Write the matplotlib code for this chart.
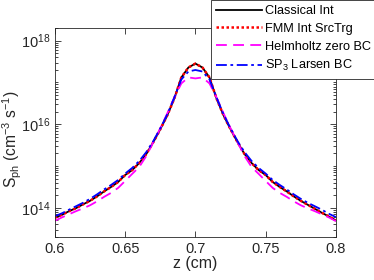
import numpy as np
import matplotlib as mpl
mpl.use('Agg')
import matplotlib.pyplot as plt
from matplotlib.ticker import FixedLocator, NullFormatter

plt.rcParams['font.family'] = ['Liberation Sans', 'DejaVu Sans']
plt.rcParams['mathtext.fontset'] = 'custom'
plt.rcParams['mathtext.rm'] = 'Liberation Sans'
plt.rcParams['mathtext.it'] = 'Liberation Sans:italic'

# z positions (cm)
z = np.linspace(0.6, 0.8, 41)

# photon source density S_ph (cm^-3 s^-1)
classical = [5.8e13, 6.8e13, 8.3e13, 9.8e13, 1.21e14, 1.47e14, 1.88e14, 2.47e14, 3.16e14, 4.16e14,
             6.1e14, 8.0e14, 1.18e15, 1.93e15, 3.72e15, 7.6e15, 1.64e16, 4.16e16, 1.32e17, 2.28e17,
             2.83e17,
             2.28e17, 1.32e17, 4.16e16, 1.64e16, 7.6e15, 3.72e15, 1.93e15, 1.18e15, 8.0e14, 6.1e14,
             4.16e14, 3.16e14, 2.47e14, 1.88e14, 1.47e14, 1.18e14, 9.5e13, 7.6e13, 6.2e13, 5.0e13]

fmm = [5.8e13, 6.8e13, 8.3e13, 9.8e13, 1.21e14, 1.47e14, 1.88e14, 2.47e14, 3.16e14, 4.16e14,
       6.1e14, 8.0e14, 1.18e15, 1.93e15, 3.72e15, 7.6e15, 1.64e16, 4.16e16, 1.32e17, 2.28e17,
       2.83e17,
       2.28e17, 1.32e17, 4.16e16, 1.64e16, 7.6e15, 3.72e15, 1.93e15, 1.18e15, 8.0e14, 6.1e14,
       4.16e14, 3.16e14, 2.47e14, 1.88e14, 1.47e14, 1.18e14, 9.5e13, 7.6e13, 6.2e13, 5.0e13]

helmholtz = [4.9e13, 5.9e13, 7.0e13, 8.3e13, 9.7e13, 1.15e14, 1.43e14, 1.83e14, 2.28e14, 3.0e14,
             4.4e14, 6.5e14, 9.5e14, 1.73e15, 3.72e15, 8.0e15, 1.83e16, 4.4e16, 9.5e16, 1.32e17,
             1.25e17,
             1.32e17, 9.5e16, 4.4e16, 1.83e16, 8.0e15, 3.72e15, 1.73e15, 9.5e14, 6.5e14, 4.4e14,
             3.0e14, 2.28e14, 1.83e14, 1.43e14, 1.15e14, 9.7e13, 8.3e13, 7.0e13, 5.9e13, 4.8e13]

sp3 = [6.3e13, 7.4e13, 9.0e13, 1.09e14, 1.32e14, 1.64e14, 2.1e14, 2.75e14, 3.53e14, 4.64e14,
       6.6e14, 9.0e14, 1.32e15, 2.15e15, 3.94e15, 8.0e15, 1.73e16, 4.4e16, 1.18e17, 1.83e17,
       1.99e17,
       1.83e17, 1.18e17, 4.4e16, 1.73e16, 8.0e15, 3.94e15, 2.15e15, 1.32e15, 9.0e14, 6.6e14,
       4.64e14, 3.53e14, 2.75e14, 2.1e14, 1.64e14, 1.32e14, 1.09e14, 9.0e13, 7.2e13, 6.0e13]

fig = plt.figure(figsize=(3.74, 2.80), dpi=100)
ax = fig.add_axes([0.147, 0.1536, 0.751, 0.746])

ax.semilogy(z, classical, color='k', lw=1.3, label='Classical Int')
ax.semilogy(z, fmm, color='r', lw=1.8, ls=(0, (1, 1)), label='FMM Int SrcTrg')
ax.semilogy(z, helmholtz, color='magenta', lw=1.3, ls=(0, (6, 3.5)), label='Helmholtz zero BC')
ax.semilogy(z, sp3, color='b', lw=1.3, ls=(0, (6, 2, 1.5, 2)), label='SP$_3$ Larsen BC')

ax.set_xlim(0.6, 0.8)
ax.set_ylim(2e13, 2e18)
ax.set_xticks([0.6, 0.65, 0.7, 0.75, 0.8])
ax.set_xticklabels(['0.6', '0.65', '0.7', '0.75', '0.8'])
ax.yaxis.set_major_locator(FixedLocator([1e14, 1e16, 1e18]))
minors = [m * 10.0 ** e for e in range(13, 19) for m in range(1, 10)
          if not (m == 1 and e % 2 == 0)]
ax.yaxis.set_minor_locator(FixedLocator(minors))
ax.yaxis.set_minor_formatter(NullFormatter())

ax.tick_params(which='both', direction='in', top=True, right=True, labelsize=10.5,
               width=0.6, color='#262626', labelcolor='#262626')
ax.tick_params(which='major', length=4)
ax.tick_params(which='minor', length=2)
for s in ax.spines.values():
    s.set_linewidth(0.6)
    s.set_color('#262626')

ax.set_xlabel('z (cm)', fontsize=11.5, color='#262626', labelpad=0)
ax.set_ylabel(r'S$_{\rm ph}$ (cm$^{-3}$ s$^{-1}$)', fontsize=11.2, color='#262626')
ax.yaxis.set_label_coords(-0.112, 0.47)

leg = fig.legend(loc='upper left', bbox_to_anchor=(0.564, 1.0), fontsize=9.2,
                 handlelength=3.6, handletextpad=0.25, labelspacing=0.45,
                 borderpad=0.4, borderaxespad=0, fancybox=False, framealpha=1)
leg.get_frame().set_edgecolor('#262626')
leg.get_frame().set_linewidth(0.6)

fig.savefig('out.png', dpi=100)
